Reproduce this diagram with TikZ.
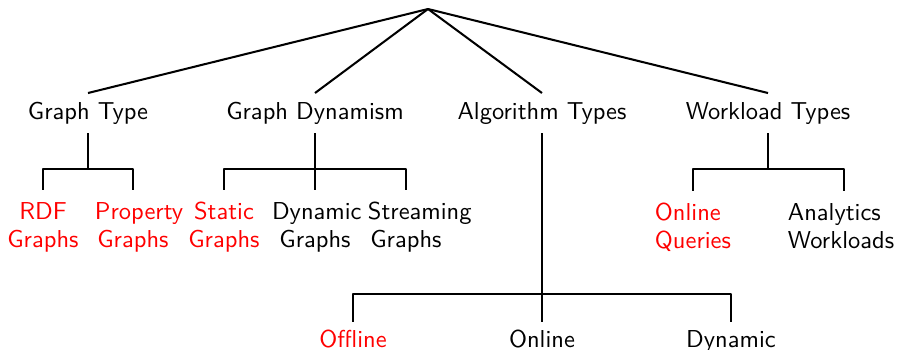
\documentclass[tikz,border=0pt]{standalone}
\usepackage{fontspec}
\hbadness=10000
\hfuzz=100pt
\begin{document}
\begin{tikzpicture}[x=0.41667pt,y=-0.41667pt,
  font=\sffamily\fontsize{10.2}{12}\selectfont,
  conn/.style={line width=0.85pt,line join=round},
  cat/.style={anchor=base,text height=7.5pt,text depth=2.1pt,inner sep=3.33pt},
  leaf/.style={anchor=base,text height=7pt,inner ysep=5pt,inner xsep=0pt,text width=31.7pt,align=center},
  wleaf/.style={leaf,align=left},
  aleaf/.style={anchor=base,text height=7pt,inner ysep=3.33pt},
  hl/.style={text=red}]
\useasboundingbox (0,0) rectangle (897,350);
\coordinate (root) at (428,9);
% level 1
\node[cat] (gt) at (88,119.5) {Graph Type};
\node[cat] (gd) at (315,119.5) {Graph Dynamism};
\node[cat] (at) at (542,119.5) {Algorithm Types};
\node[cat] (wt) at (768,119.5) {Workload Types};
% leaves
\node[leaf,hl] (rdf) at (43,219) {RDF\\Graphs};
\node[leaf,hl] (prop) at (133,219) {Property\\Graphs};
\node[leaf,hl] (stat) at (224,219) {Static\\Graphs};
\node[leaf,text width=35.8pt] (dyn) at (315,219) {Dynamic\\Graphs};
\node[leaf] (strm) at (406,219) {Streaming\\Graphs};
\node[wleaf,hl] (oq) at (693,220) {Online\\Queries};
\node[wleaf,text width=46.7pt] (aw) at (844,220) {Analytics\\Workloads};
\node[aleaf,hl] (off) at (353,347) {Offline};
\node[aleaf] (onl) at (542,347) {Online};
\node[aleaf] (dynm) at (731,347) {Dynamic};
% connectors
\draw[conn] (root) -- (gt.north);
\draw[conn] (root) -- (gd.north);
\draw[conn] (root) -- (at.north);
\draw[conn] (root) -- (wt.north);
\draw[conn] (gt.south) -- ++(0,36) -| (rdf.north);
\draw[conn] (gt.south) -- ++(0,36) -| (prop.north);
\draw[conn] (gd.south) -- ++(0,36) -| (stat.north);
\draw[conn] (gd.south) -- (dyn.north);
\draw[conn] (gd.south) -- ++(0,36) -| (strm.north);
\draw[conn] (at.south) -- ++(0,161) -| (off.north);
\draw[conn] (at.south) -- (onl.north);
\draw[conn] (at.south) -- ++(0,161) -| (dynm.north);
\draw[conn] (wt.south) -- ++(0,36) -| (oq.north);
\draw[conn] (wt.south) -- ++(0,36) -| (aw.north);
\end{tikzpicture}
\end{document}
